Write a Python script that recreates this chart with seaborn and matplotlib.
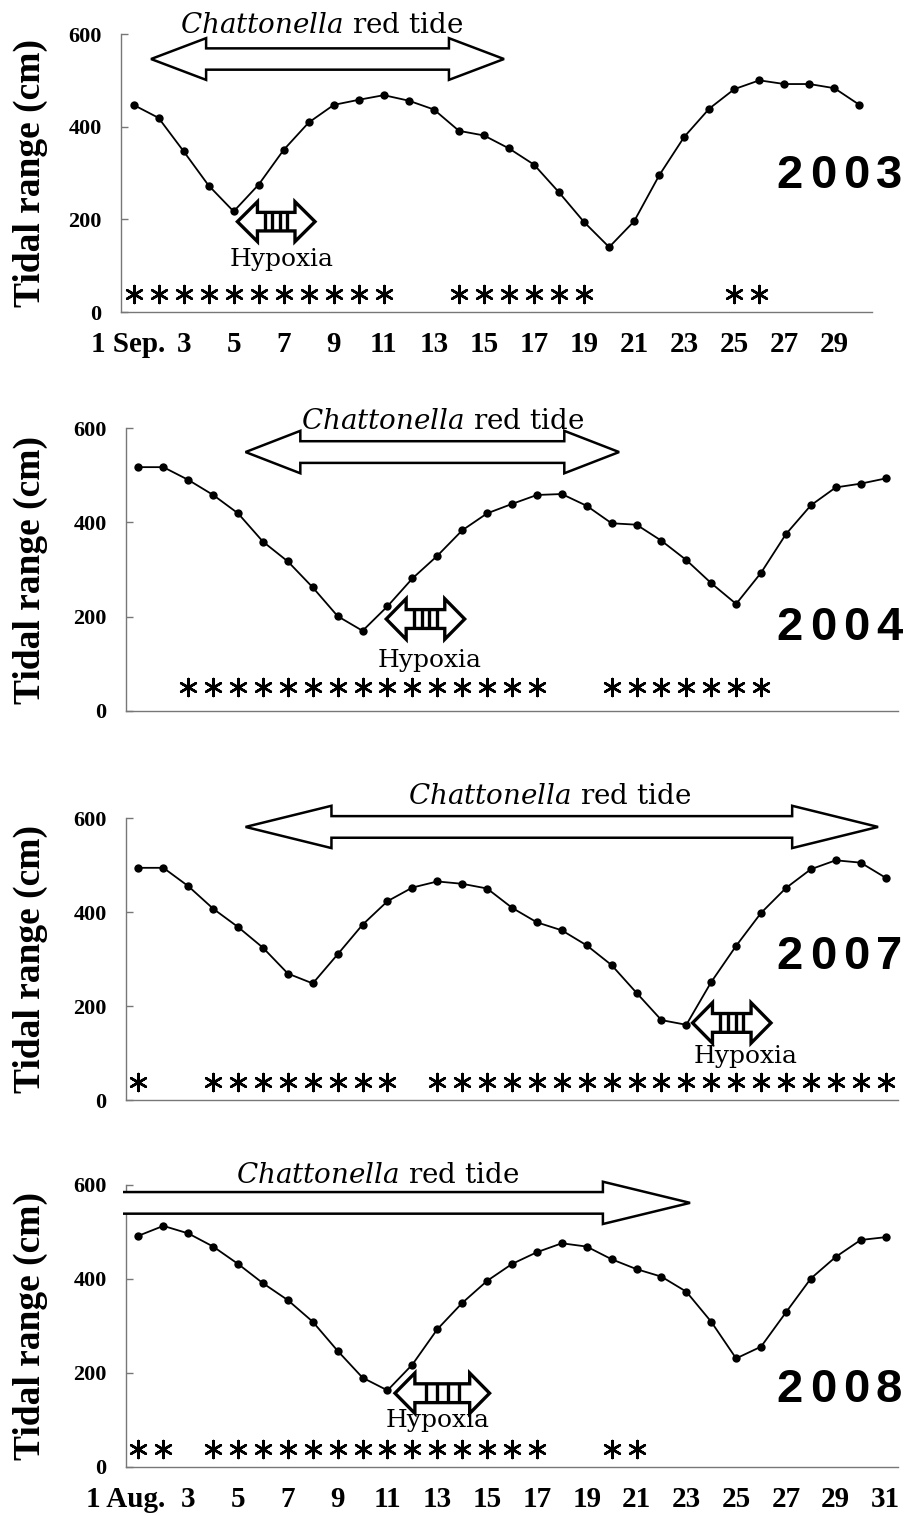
import numpy as np
import pandas as pd
import matplotlib
matplotlib.use("Agg")
import matplotlib.pyplot as plt
from matplotlib.patches import Polygon
import seaborn as sns

# daily tidal range (cm)
range_2003 = [447, 419, 347, 273, 217, 275, 350, 409, 447, 458, 468, 456, 437, 391, 381,
              353, 318, 258, 194, 140, 196, 295, 378, 439, 481, 500, 492, 492, 483, 447]
range_2004 = [517, 517, 490, 458, 419, 359, 317, 262, 201, 170, 222, 281, 329, 383, 419, 439,
              458, 460, 435, 398, 395, 361, 320, 271, 227, 293, 375, 436, 474, 482, 493]
range_2007 = [494, 494, 455, 407, 368, 324, 269, 248, 310, 373, 423, 452, 465, 460, 450, 409,
              378, 361, 329, 287, 228, 170, 160, 251, 328, 398, 451, 491, 510, 505, 473]
range_2008 = [492, 513, 497, 469, 432, 391, 355, 309, 247, 190, 163, 218, 293, 349, 396, 432,
              457, 476, 469, 442, 421, 405, 373, 309, 231, 256, 329, 401, 447, 483, 489]

# days marked with an asterisk
stars_2003 = list(range(1, 12)) + list(range(14, 20)) + [25, 26]
stars_2004 = list(range(3, 18)) + list(range(20, 27))
stars_2007 = [1] + list(range(4, 12)) + list(range(13, 32))
stars_2008 = [1, 2] + list(range(4, 18)) + [20, 21]

# red tide period (arrow tips, in days) and hypoxia period
redtide_2003 = (1.7, 15.8)
redtide_2004 = (5.3, 20.3)
redtide_2007 = (5.3, 30.7)
redtide_2008 = (0.38, 23.15)
hypoxia_2003 = (5.15, 8.25)
hypoxia_2004 = (10.95, 14.1)
hypoxia_2007 = (23.25, 26.4)
hypoxia_2008 = (11.3, 15.1)

sns.set_theme(style="white")
plt.rcParams["font.family"] = ["DejaVu Serif"]
plt.rcParams["mathtext.fontset"] = "custom"
plt.rcParams["mathtext.it"] = "DejaVu Serif:italic"
plt.rcParams["mathtext.rm"] = "DejaVu Serif"
for key in ["text.color", "axes.labelcolor", "xtick.color", "ytick.color"]:
    plt.rcParams[key] = "black"

W, H = 912, 1516
fig = plt.figure(figsize=(W / 100, H / 100), dpi=100)


def add_ax(left, right, top, bottom):
    return fig.add_axes([left / W, 1 - bottom / H, (right - left) / W, (bottom - top) / H])


def block_arrow(ax, x0, x1, yc, hl, hh, sh, double=True):
    if double:
        verts = [(x0, yc), (x0 + hl, yc + hh), (x0 + hl, yc + sh), (x1 - hl, yc + sh),
                 (x1 - hl, yc + hh), (x1, yc), (x1 - hl, yc - hh), (x1 - hl, yc - sh),
                 (x0 + hl, yc - sh), (x0 + hl, yc - hh)]
        closed = True
    else:
        verts = [(x0, yc - sh), (x1 - hl, yc - sh), (x1 - hl, yc - hh), (x1, yc),
                 (x1 - hl, yc + hh), (x1 - hl, yc + sh), (x0, yc + sh)]
        closed = False
    ax.add_patch(Polygon(verts, closed=closed, fc="white", ec="black", lw=1.8,
                         clip_on=False, zorder=3))


def hypoxia_arrow(ax, x0, x1, yc):
    hl, hh, sh = 0.8, 43, 20
    verts = [(x0, yc), (x0 + hl, yc + hh), (x0 + hl, yc + sh), (x1 - hl, yc + sh),
             (x1 - hl, yc + hh), (x1, yc), (x1 - hl, yc - hh), (x1 - hl, yc - sh),
             (x0 + hl, yc - sh), (x0 + hl, yc - hh)]
    ax.add_patch(Polygon(verts, closed=True, fc="white", ec="black", lw=2.4,
                         clip_on=False, zorder=4))
    ax.vlines(np.linspace(x0 + hl, x1 - hl, 6)[1:-1], yc - sh, yc + sh,
              color="black", lw=2.4, zorder=5)


panels = [
    dict(year="2003", vals=range_2003, stars=stars_2003, star_y=38,
         box=(121, 872, 34, 312), red=redtide_2003, red_y=546, red_hl=2.2, red_double=True,
         red_text=(8.5, 619), hyp=hypoxia_2003, hyp_y=195, hyp_text=(6.9, 114),
         year_y=176, labels="1 Sep.", first_at=0.8),
    dict(year="2004", vals=range_2004, stars=stars_2004, star_y=50,
         box=(126, 898, 428, 711), red=redtide_2004, red_y=549, red_hl=2.2, red_double=True,
         red_text=(13.2, 613), hyp=hypoxia_2004, hyp_y=195, hyp_text=(12.7, 108),
         year_y=628, labels=None, first_at=1),
    dict(year="2007", vals=range_2007, stars=stars_2007, star_y=39,
         box=(126, 898, 818, 1100), red=redtide_2007, red_y=581, red_hl=3.45, red_double=True,
         red_text=(17.5, 645), hyp=hypoxia_2007, hyp_y=164, hyp_text=(25.4, 92),
         year_y=957, labels=None, first_at=1),
    dict(year="2008", vals=range_2008, stars=stars_2008, star_y=39,
         box=(126, 898, 1185, 1467), red=redtide_2008, red_y=562, red_hl=3.5, red_double=False,
         red_text=(10.6, 621), hyp=hypoxia_2008, hyp_y=157, hyp_text=(13.0, 100),
         year_y=1390, labels="1 Aug.", first_at=0.5),
]

for p in panels:
    left, right, top, bottom = p["box"]
    ax = add_ax(left, right, top, bottom)
    n = len(p["vals"])
    df = pd.DataFrame({"day": np.arange(1, n + 1), "range": p["vals"]})
    sns.lineplot(data=df, x="day", y="range", ax=ax, color="black", linewidth=1.3,
                 marker="o", markersize=6, markeredgewidth=0, zorder=6)

    sd = pd.DataFrame({"day": p["stars"], "y": [p["star_y"]] * len(p["stars"])})
    sns.scatterplot(data=sd, x="day", y="y", ax=ax, marker=(6, 2, 0), s=150,
                    color="black", linewidth=1.8, zorder=5)

    ax.set_xlim(0.5, n + 0.5)
    ax.set_ylim(0, 600)
    ax.set_yticks([0, 200, 400, 600])
    ax.set_yticklabels(["0", "200", "400", "600"], family="Liberation Serif",
                       fontweight="bold", fontsize=16)
    ax.set_xticks(np.arange(0.5, 31, 2), minor=True)
    if p["labels"]:
        days = np.arange(1, n + 1, 2)
        pos = [p["first_at"]] + list(days[1:])
        ax.set_xticks(pos)
        ax.set_xticklabels([p["labels"]] + [str(d) for d in days[1:]],
                           family="Liberation Serif", fontsize=21, fontweight="bold")
    else:
        ax.set_xticks([])
    ax.tick_params(axis="x", which="major", length=0, pad=14)
    ax.tick_params(axis="x", which="minor", direction="in", length=5, width=1, color="#777777")
    ax.tick_params(axis="y", direction="in", length=5, width=1, color="#777777",
                   pad=14, left=True)
    sns.despine(ax=ax)
    for s in ["left", "bottom"]:
        ax.spines[s].set_color("#777777")
        ax.spines[s].set_linewidth(1)
    ax.set_xlabel("")
    ax.set_ylabel("Tidal range (cm)", family="Liberation Serif", fontsize=27,
                  fontweight="bold", va="center")
    ax.yaxis.set_label_coords((30 - left) / (right - left), 0.5)

    block_arrow(ax, p["red"][0], p["red"][1], p["red_y"], p["red_hl"], 45, 23,
                double=p["red_double"])
    ax.text(p["red_text"][0], p["red_text"][1], r"$\mathit{Chattonella}$ red tide",
            ha="center", va="center", fontsize=20, clip_on=False)

    hypoxia_arrow(ax, p["hyp"][0], p["hyp"][1], p["hyp_y"])
    ax.text(p["hyp_text"][0], p["hyp_text"][1], "Hypoxia", ha="center", va="center",
            fontsize=18, zorder=6)

    for i, ch in enumerate(p["year"]):
        fig.text((790 + 33 * i) / W, 1 - p["year_y"] / H, ch, ha="center", va="center",
                 fontsize=34, fontweight="bold", family="Liberation Sans")

fig.savefig("out.png", dpi=100, facecolor="white")
